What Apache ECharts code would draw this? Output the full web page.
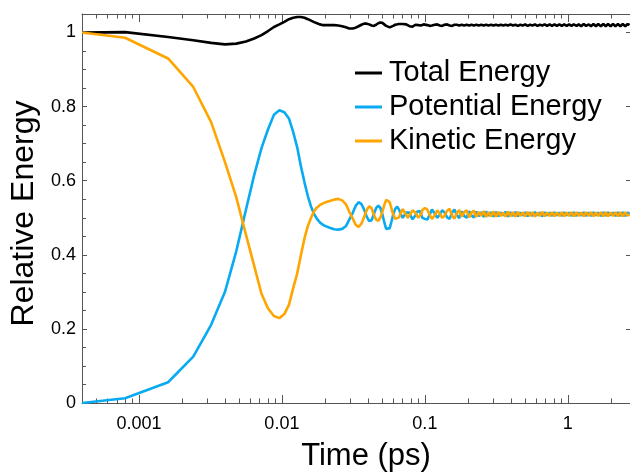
<!DOCTYPE html>
<html><head><meta charset="utf-8">
<script src="https://cdn.jsdelivr.net/npm/echarts@6/dist/echarts.min.js"></script>
<style>html,body{margin:0;padding:0;background:#fff}#c{width:630px;height:473px}</style>
</head><body><div id="c"></div>
<script>
// Time (ps)
const times = [
  0.0004, 0.0008, 0.0016, 0.0024, 0.0032, 0.004, 0.0048, 0.0056, 0.0064, 0.0072,
  0.008, 0.0088, 0.0096, 0.0104, 0.0112, 0.012, 0.0128, 0.0136, 0.0144, 0.0152,
  0.016, 0.0168, 0.0176, 0.0184, 0.0192, 0.02,
  0.0216, 0.0232, 0.0248, 0.0264, 0.028, 0.0296, 0.0312, 0.0328, 0.0344, 0.036,
  0.0376, 0.0392, 0.0408, 0.0424, 0.044, 0.0456, 0.0472, 0.0488, 0.0504, 0.052,
  0.0536, 0.0552, 0.0568, 0.0584, 0.06,
  0.062, 0.064, 0.066, 0.068, 0.07, 0.072, 0.074, 0.076, 0.078, 0.08,
  0.082, 0.084, 0.086, 0.088, 0.09, 0.092, 0.094, 0.096, 0.098,
  0.1, 0.104, 0.108, 0.112, 0.117, 0.122, 0.127, 0.132, 0.137, 0.143,
  0.149, 0.155, 0.161, 0.167, 0.174, 0.181, 0.188, 0.196, 0.204, 0.212,
  0.22, 0.229, 0.238, 0.248, 0.258, 0.268, 0.279, 0.29, 0.302, 0.314,
  0.327, 0.34, 0.353, 0.367, 0.382, 0.397, 0.413, 0.43, 0.447, 0.465,
  0.484, 0.503, 0.523, 0.544, 0.566, 0.589, 0.612, 0.637, 0.662, 0.689,
  0.716, 0.745, 0.775, 0.806, 0.838, 0.872, 0.907, 0.943, 0.981, 1.02,
  1.06, 1.1, 1.15, 1.19, 1.24, 1.29, 1.34, 1.4, 1.45, 1.51,
  1.57, 1.63, 1.7, 1.77, 1.84, 1.91, 1.99, 2.07, 2.15, 2.24,
  2.33, 2.42, 2.52, 2.62, 2.7
];

const totalEnergy = [
  1.0, 1.001, 0.988, 0.979, 0.972, 0.968, 0.970, 0.976, 0.984, 0.993,
  1.004, 1.015, 1.022, 1.029, 1.036, 1.04, 1.042, 1.042, 1.04, 1.036,
  1.032, 1.028, 1.025, 1.022, 1.02, 1.02,
  1.02, 1.02, 1.019, 1.017, 1.014, 1.011, 1.011, 1.013, 1.017, 1.021,
  1.024, 1.024, 1.022, 1.019, 1.018, 1.021, 1.025, 1.027, 1.026, 1.022,
  1.018, 1.015, 1.014, 1.015, 1.018,
  1.021, 1.023, 1.023, 1.022, 1.023, 1.024, 1.022, 1.019, 1.017, 1.016,
  1.016, 1.018, 1.021, 1.022, 1.02, 1.018, 1.019, 1.021, 1.022,
  1.022, 1.02, 1.018, 1.019, 1.021, 1.022, 1.019, 1.018, 1.021, 1.022,
  1.019, 1.018, 1.021, 1.021, 1.019, 1.021, 1.019, 1.021, 1.019, 1.021,
  1.019, 1.021, 1.019, 1.021, 1.019, 1.021, 1.019, 1.021, 1.019, 1.021,
  1.019, 1.021, 1.019, 1.021, 1.019, 1.022, 1.019, 1.021, 1.018, 1.021,
  1.019, 1.022, 1.018, 1.021, 1.019, 1.022, 1.018, 1.021, 1.019, 1.022,
  1.018, 1.022, 1.018, 1.022, 1.018, 1.022, 1.018, 1.022, 1.018, 1.022,
  1.018, 1.022, 1.018, 1.022, 1.017, 1.023, 1.018, 1.022, 1.017, 1.023,
  1.017, 1.023, 1.017, 1.023, 1.017, 1.023, 1.017, 1.023, 1.017, 1.023,
  1.017, 1.023, 1.017, 1.023, 1.02
];

const potentialEnergy = [
  0.0, 0.013, 0.056, 0.125, 0.211, 0.30, 0.41, 0.521, 0.615, 0.688,
  0.739, 0.778, 0.79, 0.785, 0.768, 0.731, 0.69, 0.638, 0.595, 0.558,
  0.53, 0.51, 0.497, 0.488, 0.482, 0.478,
  0.473, 0.469, 0.468, 0.470, 0.477, 0.495, 0.512, 0.532, 0.542, 0.537,
  0.522, 0.503, 0.491, 0.493, 0.510, 0.526, 0.533, 0.527, 0.510, 0.488,
  0.470, 0.465, 0.472, 0.490, 0.508,
  0.524, 0.530, 0.522, 0.508, 0.500, 0.504, 0.514, 0.519, 0.514, 0.503,
  0.496, 0.497, 0.507, 0.516, 0.520, 0.518, 0.510, 0.500, 0.496,
  0.497, 0.495, 0.508, 0.522, 0.512, 0.5, 0.508, 0.52, 0.515, 0.501,
  0.497, 0.514, 0.522, 0.508, 0.499, 0.517, 0.505, 0.5, 0.518, 0.506,
  0.501, 0.517, 0.504, 0.515, 0.502, 0.517, 0.505, 0.515, 0.503, 0.516,
  0.504, 0.514, 0.506, 0.516, 0.503, 0.515, 0.505, 0.516, 0.504, 0.514,
  0.506, 0.515, 0.504, 0.514, 0.505, 0.516, 0.506, 0.514, 0.504, 0.515,
  0.506, 0.514, 0.505, 0.515, 0.506, 0.514, 0.505, 0.515, 0.506, 0.514,
  0.505, 0.515, 0.505, 0.514, 0.506, 0.515, 0.505, 0.514, 0.505, 0.515,
  0.506, 0.514, 0.505, 0.515, 0.505, 0.515, 0.506, 0.514, 0.505, 0.515,
  0.505, 0.515, 0.505, 0.514, 0.51
];

const kineticEnergy = [
  1.0, 0.986, 0.930, 0.853, 0.758, 0.65, 0.555, 0.455, 0.37, 0.295,
  0.255, 0.235, 0.229, 0.24, 0.265, 0.31, 0.35, 0.40, 0.445, 0.478,
  0.50, 0.518, 0.528, 0.534, 0.538, 0.541,
  0.545, 0.549, 0.551, 0.547, 0.537, 0.516, 0.499, 0.481, 0.475, 0.484,
  0.502, 0.521, 0.531, 0.526, 0.508, 0.495, 0.492, 0.500, 0.516, 0.534,
  0.548, 0.550, 0.542, 0.525, 0.510,
  0.497, 0.493, 0.501, 0.514, 0.523, 0.520, 0.508, 0.500, 0.503, 0.513,
  0.520, 0.521, 0.514, 0.506, 0.500, 0.500, 0.509, 0.521, 0.526,
  0.526, 0.522, 0.508, 0.497, 0.506, 0.52, 0.512, 0.5, 0.505, 0.519,
  0.524, 0.506, 0.497, 0.512, 0.521, 0.503, 0.515, 0.52, 0.501, 0.514,
  0.519, 0.502, 0.516, 0.505, 0.518, 0.502, 0.515, 0.504, 0.517, 0.503,
  0.516, 0.505, 0.514, 0.503, 0.517, 0.504, 0.515, 0.503, 0.516, 0.505,
  0.514, 0.504, 0.516, 0.505, 0.515, 0.503, 0.514, 0.505, 0.516, 0.504,
  0.514, 0.505, 0.515, 0.504, 0.514, 0.505, 0.515, 0.504, 0.514, 0.505,
  0.515, 0.504, 0.515, 0.505, 0.514, 0.504, 0.515, 0.505, 0.515, 0.504,
  0.514, 0.505, 0.515, 0.504, 0.515, 0.504, 0.514, 0.505, 0.515, 0.504,
  0.515, 0.504, 0.515, 0.505, 0.51
];

// Tick positions / labels
const xMajorTicks = [0.001, 0.01, 0.1, 1];
const xMinorTicks = [0.0005, 0.0006, 0.0007, 0.0008, 0.0009,
  0.002, 0.003, 0.004, 0.005, 0.006, 0.007, 0.008, 0.009,
  0.02, 0.03, 0.04, 0.05, 0.06, 0.07, 0.08, 0.09,
  0.2, 0.3, 0.4, 0.5, 0.6, 0.7, 0.8, 0.9, 2];
const xTickLabels = ['0.001', '0.01', '0.1', '1'];
const yMajorTicks = [0, 0.2, 0.4, 0.6, 0.8, 1];
const yMinorTicks = [0.05, 0.1, 0.15, 0.25, 0.3, 0.35, 0.45, 0.5, 0.55,
  0.65, 0.7, 0.75, 0.85, 0.9, 0.95];
const yTickLabels = ['0', '0.2', '0.4', '0.6', '0.8', '1'];
const seriesNames = ['Total Energy', 'Potential Energy', 'Kinetic Energy'];

const X_MIN = 0.0004, X_MAX = 2.72, Y_MIN = 0, Y_MAX = 1.05;
const FONT = "'Liberation Sans', Arial, Helvetica, sans-serif";
const AX = '#555';

function pairs(vals) {
  const n = Math.min(times.length, vals.length);
  const out = [];
  for (let i = 0; i < n; i++) out.push([times[i], vals[i]]);
  return out;
}
function matchLabel(v, ticks, labels) {
  for (let i = 0; i < ticks.length; i++) {
    if (Math.abs(v - ticks[i]) <= 1e-9 + Math.abs(ticks[i]) * 1e-6) return labels[i];
  }
  return '';
}

function xAxisDef(position, major, withLabels) {
  return {
    type: 'log', logBase: 10, min: X_MIN, max: X_MAX, position: position,
    splitLine: { show: false },
    axisLine: { show: true, onZero: false, lineStyle: { color: major ? AX : 'rgba(0,0,0,0)', width: 1 } },
    axisTick: { show: true, inside: true, length: major ? 8 : 4.5,
      customValues: major ? xMajorTicks : xMinorTicks,
      lineStyle: { color: AX, width: 1 } },
    axisLabel: withLabels ? {
      show: true, fontSize: 18, color: '#000', fontFamily: FONT, margin: 12,
      showMinLabel: false, showMaxLabel: false, hideOverlap: false,
      formatter: function (v) { return matchLabel(v, xMajorTicks, xTickLabels); }
    } : { show: false }
  };
}

const xAxes = [
  Object.assign(xAxisDef('bottom', true, true), {
    name: 'Time (ps)', nameLocation: 'middle', nameGap: 38,
    nameTextStyle: { fontSize: 31, color: '#000', fontFamily: FONT, padding: [0, 0, 0, 20] }
  }),
  xAxisDef('bottom', false, false),
  xAxisDef('top', true, false),
  xAxisDef('top', false, false)
];

function yAxisDef(position, ticks, len, withLabels, lineShow) {
  return {
    type: 'value', min: Y_MIN, max: Y_MAX, interval: 0.2, position: position,
    splitLine: { show: false },
    axisLine: { show: true, onZero: false, lineStyle: { color: lineShow ? AX : 'rgba(0,0,0,0)', width: 1 } },
    axisTick: { show: true, inside: true, length: len, customValues: ticks,
      lineStyle: { color: AX, width: 1 } },
    axisLabel: withLabels ? {
      show: true, fontSize: 18, color: '#000', fontFamily: FONT, margin: 6,
      showMaxLabel: false, hideOverlap: false,
      formatter: function (v) { return matchLabel(v, yMajorTicks, yTickLabels); }
    } : { show: false }
  };
}

const yAxes = [
  Object.assign(yAxisDef('left', yMajorTicks, 5, true, true), {
    name: 'Relative Energy', nameLocation: 'middle', nameGap: 34,
    nameTextStyle: { fontSize: 32, color: '#000', fontFamily: FONT, padding: [0, 10, 0, 0] }
  }),
  yAxisDef('left', yMinorTicks, 4, false, false),
  yAxisDef('right', yMajorTicks, 4, false, false)
];

const colors = ['#000000', '#08aaf2', '#ffa500'];
const valueSets = [totalEnergy, potentialEnergy, kineticEnergy];

const chart = echarts.init(document.getElementById('c'), null, { renderer: 'canvas' });
chart.setOption({
  animation: false,
  backgroundColor: '#fff',
  grid: { left: 82, right: 0, top: 14, bottom: 70, containLabel: false, outerBoundsMode: 'none' },
  legend: {
    data: seriesNames, orient: 'vertical', left: 355, top: 56, padding: 0,
    icon: 'rect', itemWidth: 27, itemHeight: 3, itemGap: 0,
    textStyle: { fontSize: 29, color: '#000', fontFamily: FONT, lineHeight: 34, padding: [0, 0, 0, 2] }
  },
  xAxis: xAxes,
  yAxis: yAxes,
  series: seriesNames.map(function (name, i) {
    return {
      name: name, type: 'line', xAxisIndex: 0, yAxisIndex: 0,
      data: pairs(valueSets[i]), symbol: 'none', showSymbol: false,
      lineStyle: { color: colors[i], width: 2.6 },
      itemStyle: { color: colors[i] },
      z: 2 + i
    };
  })
});
</script></body></html>
